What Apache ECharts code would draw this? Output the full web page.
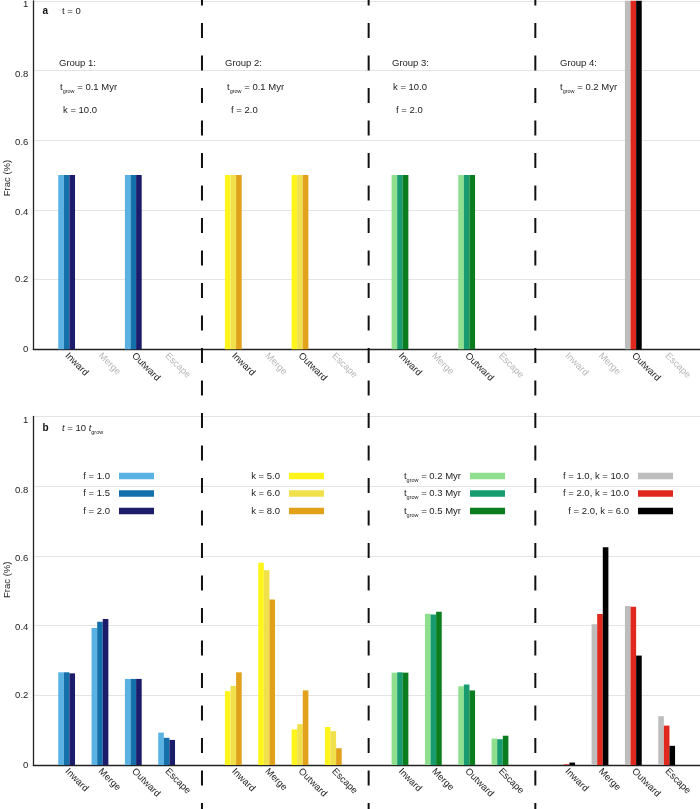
<!DOCTYPE html>
<html><head><meta charset="utf-8">
<script src="https://cdn.jsdelivr.net/npm/echarts@6/dist/echarts.min.js"></script>
<style>html,body{margin:0;padding:0;background:#fff}#c{width:700px;height:809px}</style>
</head><body><div id="c"></div>
<script>
// ---------- data ----------
const categories = ['Inward', 'Merge', 'Outward', 'Escape'];
const yTicks = [0, 0.2, 0.4, 0.6, 0.8, 1];
const yTickLabels = ['0', '0.2', '0.4', '0.6', '0.8', '1'];

// panel a (t = 0): each group = 3 series x 4 categories
const a_group1 = [[0.5, 0, 0.5, 0], [0.5, 0, 0.5, 0], [0.5, 0, 0.5, 0]];
const a_group2 = [[0.5, 0, 0.5, 0], [0.5, 0, 0.5, 0], [0.5, 0, 0.5, 0]];
const a_group3 = [[0.5, 0, 0.5, 0], [0.5, 0, 0.5, 0], [0.5, 0, 0.5, 0]];
const a_group4 = [[0, 0, 1, 0], [0, 0, 1, 0], [0, 0, 1, 0]];

// panel b (t = 10 t_grow)
const b_group1 = [[0.266, 0.393, 0.247, 0.093], [0.266, 0.411, 0.247, 0.078], [0.263, 0.419, 0.247, 0.072]];
const b_group2 = [[0.212, 0.580, 0.102, 0.109], [0.227, 0.559, 0.117, 0.097], [0.266, 0.475, 0.214, 0.048]];
const b_group3 = [[0.265, 0.434, 0.226, 0.076], [0.266, 0.432, 0.231, 0.074], [0.265, 0.440, 0.214, 0.084]];
const b_group4 = [[0.001, 0.404, 0.456, 0.140], [0.002, 0.433, 0.454, 0.113], [0.007, 0.625, 0.314, 0.055]];

const groupColors = [
  ['#5ab2e2', '#1470ab', '#1b1d6b'],
  ['#fff51c', '#f0e04c', '#e1a11b'],
  ['#8fdf8f', '#179b6f', '#0b7d1f'],
  ['#bdbdbd', '#e0281e', '#000000']
];
const legendLabels = [
  ['f = 1.0', 'f = 1.5', 'f = 2.0'],
  ['k = 5.0', 'k = 6.0', 'k = 8.0'],
  ['{n|t}{s|grow}{n| = 0.2 Myr}', '{n|t}{s|grow}{n| = 0.3 Myr}', '{n|t}{s|grow}{n| = 0.5 Myr}'],
  ['f = 1.0, k = 10.0', 'f = 2.0, k = 10.0', 'f = 2.0, k = 6.0']
];
const groupNotes = [
  ['Group 1:', '{n|t}{s|grow}{n| = 0.1 Myr}', 'k = 10.0'],
  ['Group 2:', '{n|t}{s|grow}{n| = 0.1 Myr}', 'f = 2.0'],
  ['Group 3:', 'k = 10.0', 'f = 2.0'],
  ['Group 4:', '{n|t}{s|grow}{n| = 0.2 Myr}']
];
const panelTitles = [
  ['a', '{n|t = 0}'],
  ['b', '{i|t}{n| = 10 }{i|t}{s|grow}']
];

// ---------- build ----------
const panels = [[a_group1, a_group2, a_group3, a_group4], [b_group1, b_group2, b_group3, b_group4]];
const FONT = '"Liberation Sans", Arial, Helvetica, sans-serif';
const TXT = '#222';
const GREY = '#b8b8b8';

function buildCats(groups) {
  const out = [''];
  groups.forEach((g) => {
    categories.forEach((c, ci) => {
      const empty = g.every(s => !s[ci]);
      out.push({ value: c, textStyle: { color: empty ? GREY : TXT } });
    });
    out.push('');
  });
  return out;
}
function buildSeriesData(groups, s) {
  const out = [null];
  groups.forEach((g, gi) => {
    g[s].forEach(v => out.push({ value: v, itemStyle: { color: groupColors[gi][s] } }));
    out.push(null);
  });
  return out;
}

// small downward nudges of tick labels, as in the reference
const labelNudge = ['d0', 'd0', 'd2', 'd2', 'd4', 'd4'];
const yRich = {
  d0: { fontSize: 9.5, color: TXT, fontFamily: FONT },
  d2: { fontSize: 9.5, color: TXT, fontFamily: FONT, padding: [4, 0, 0, 0] },
  d4: { fontSize: 9.5, color: TXT, fontFamily: FONT, padding: [8, 0, 0, 0] }
};
const namePads = [[0, 6, 0, 0], [0, 0, 0, 22]];

const gridTops = [0.8, 416.5];
const grids = gridTops.map(t => ({ left: 33.3, right: 0, top: t, height: 348.5, outerBoundsMode: 'none', containLabel: false }));
const xAxes = panels.map((groups, p) => ({
  type: 'category', gridIndex: p, data: buildCats(groups), boundaryGap: false,
  axisLine: { lineStyle: { color: TXT, width: 1.3 } }, axisTick: { show: false },
  axisLabel: { interval: 0, rotate: -45, margin: 5, fontSize: 9.5, fontFamily: FONT },
  splitLine: { show: false }
}));
const yAxes = panels.map((g, p) => ({
  type: 'value', gridIndex: p, min: yTicks[0], max: yTicks[yTicks.length - 1], interval: yTicks[1] - yTicks[0],
  name: 'Frac (%)', nameLocation: 'middle', nameGap: 21, nameMoveOverlap: false,
  nameTextStyle: { fontSize: 9.5, color: TXT, fontFamily: FONT, padding: namePads[p] },
  axisLine: { show: true, lineStyle: { color: TXT, width: 1.3 } }, axisTick: { show: false },
  axisLabel: { margin: 5, fontSize: 9.5, color: TXT, fontFamily: FONT, rich: yRich,
    formatter: v => { const i = yTicks.findIndex(t => Math.abs(t - v) < 1e-9); return i >= 0 ? '{' + labelNudge[i] + '|' + yTickLabels[i] + '}' : ''; } },
  splitLine: { lineStyle: { color: '#e4e4e4', width: 1 } }
}));
const series = [];
panels.forEach((groups, p) => {
  for (let s = 0; s < 3; s++) {
    series.push({ type: 'bar', xAxisIndex: p, yAxisIndex: p, barWidth: 5.6, barGap: '0%',
      data: buildSeriesData(groups, s), silent: true });
  }
});

const chart = echarts.init(document.getElementById('c'), null, { renderer: 'canvas' });
chart.setOption({
  animation: false,
  backgroundColor: '#fff',
  textStyle: { fontFamily: FONT },
  grid: grids, xAxis: xAxes, yAxis: yAxes, series: series
});

// ---------- annotations ----------
const rich = {
  n: { fontSize: 9.5, lineHeight: 14, color: TXT, fontFamily: FONT },
  i: { fontSize: 9.5, lineHeight: 14, fontStyle: 'italic', color: TXT, fontFamily: FONT },
  s: { fontSize: 5.5, lineHeight: 6, verticalAlign: 'bottom', color: TXT, fontFamily: FONT }
};
function txt(x, y, text, align) {
  const t = /\{/.test(text) ? text : '{n|' + text + '}';
  return { type: 'text', x: x, y: y, silent: true,
    style: { text: t, rich: rich, align: align || 'left', verticalAlign: 'middle', fill: TXT, fontSize: 9.5, fontFamily: FONT } };
}
const gfx = [];
// separators between groups, spanning both panels
[5, 10, 15].forEach(i => {
  const x = chart.convertToPixel({ xAxisIndex: 0 }, i) + 2;
  gfx.push({ type: 'line', silent: true, z: 10,
    shape: { x1: x, y1: 0, x2: x, y2: 809 },
    style: { stroke: '#111', lineWidth: 2, lineDash: [15, 17.5], lineDashOffset: 9.5 } });
});
// panel titles
const titleY = [11.5, 428];
panelTitles.forEach((pt, p) => {
  gfx.push({ type: 'text', x: 42.5, y: titleY[p], silent: true,
    style: { text: pt[0], fontWeight: 'bold', fontSize: 10, fill: '#111', fontFamily: FONT, verticalAlign: 'middle' } });
  gfx.push(txt(62, titleY[p], pt[1]));
});
// group notes (panel a)
const noteX = [[59, 60, 63], [225, 227, 231], [392, 393, 396], [560, 560]];
const noteY = [63, 87, 110];
groupNotes.forEach((lines, g) => lines.forEach((l, r) => gfx.push(txt(noteX[g][r], noteY[r], l))));
// legends (panel b)
const swX = [119, 289, 470, 638];
const legY = [476, 493.5, 511];
legendLabels.forEach((labs, g) => labs.forEach((l, r) => {
  gfx.push(txt(swX[g] - 9, legY[r], l, 'right'));
  gfx.push({ type: 'rect', silent: true, shape: { x: swX[g], y: legY[r] - 3.25, width: 35, height: 6.5 },
    style: { fill: groupColors[g][r] } });
}));
chart.setOption({ graphic: gfx });
</script>
</body></html>
